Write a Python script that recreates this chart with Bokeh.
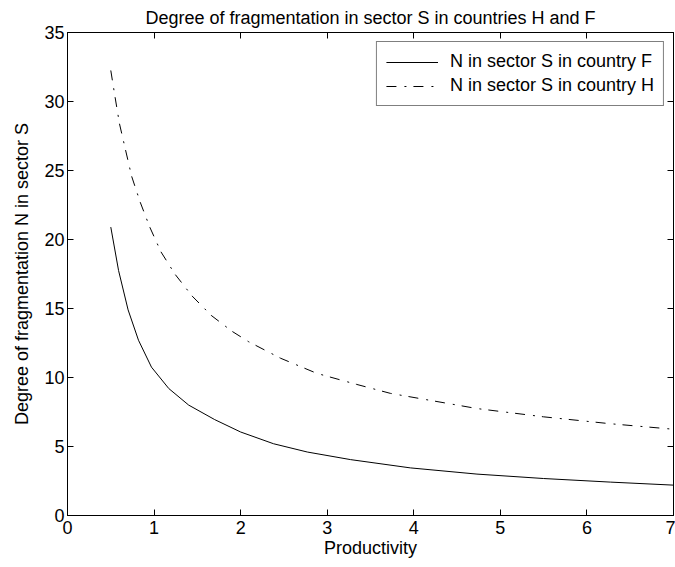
from bokeh.plotting import figure
from bokeh.models import LinearAxis, FixedTicker, Legend, LegendItem
from bokeh.embed import file_html
from bokeh.resources import INLINE

# Productivity values and the fragmentation N they give, per country
prod_F = [0.50, 0.59, 0.70, 0.82, 0.97, 1.17, 1.40, 1.70, 2.00, 2.38, 2.77,
          3.27, 3.96, 4.73, 5.50, 6.27, 7.00]
frag_F = [20.9, 17.75, 14.9, 12.7, 10.75, 9.2, 8.0, 6.95, 6.05, 5.2, 4.6,
          4.05, 3.45, 3.0, 2.68, 2.42, 2.2]

prod_H = [0.50, 0.55, 0.60, 0.67, 0.74, 0.84, 0.95, 1.08, 1.24, 1.44, 1.66,
          1.90, 2.09, 2.46, 2.88, 3.34, 3.73, 4.73, 5.50, 6.27, 7.00]
frag_H = [32.25, 30.3, 28.4, 26.5, 24.6, 22.7, 20.9, 19.1, 17.5, 15.9, 14.5,
          13.35, 12.6, 11.4, 10.3, 9.5, 8.85, 7.75, 7.15, 6.65, 6.25]

x_ticks = [0, 1, 2, 3, 4, 5, 6, 7]
y_ticks = [0, 5, 10, 15, 20, 25, 30, 35]

FONT = "Liberation Sans"
SIZE = "18px"

p = figure(width=675, height=567, x_range=(0, 7), y_range=(0, 35),
           output_backend="svg", toolbar_location=None,
           title="Degree of fragmentation in sector S in countries H and F",
           min_border_left=67, min_border_right=2,
           min_border_top=32, min_border_bottom=52)

p.background_fill_color = "white"
p.border_fill_color = "white"
p.outline_line_color = "black"
p.outline_line_width = 1
p.grid.visible = False

p.title.text_font = FONT
p.title.text_font_size = SIZE
p.title.text_font_style = "normal"
p.title.align = "center"
p.title.text_color = "black"
p.title.standoff = 10

for ax, ticks in ((p.xaxis[0], x_ticks), (p.yaxis[0], y_ticks)):
    ax.ticker = FixedTicker(ticks=ticks)
    ax.major_tick_in = 6
    ax.major_tick_out = 0
    ax.minor_tick_line_color = None
    ax.axis_line_color = "black"
    ax.major_tick_line_color = "black"
    ax.major_label_text_font = FONT
    ax.major_label_text_font_size = SIZE
    ax.major_label_text_color = "black"
    ax.axis_label_text_font = FONT
    ax.axis_label_text_font_size = SIZE
    ax.axis_label_text_font_style = "normal"
    ax.axis_label_text_color = "black"
    ax.major_label_standoff = 3

p.xaxis.major_label_standoff = 5
p.xaxis.axis_label = "Productivity"
p.yaxis.axis_label = "Degree of fragmentation N in sector S"
p.xaxis.axis_label_standoff = 1
p.yaxis.axis_label_standoff = 9

# Tick marks on the top and right edges of the box, without labels
top = LinearAxis(ticker=FixedTicker(ticks=x_ticks),
                 major_label_overrides={t: "" for t in x_ticks},
                 major_label_text_font_size="1px",
                 major_tick_in=6, major_tick_out=0, minor_tick_line_color=None,
                 major_label_standoff=0, axis_line_color="black")
right = LinearAxis(ticker=FixedTicker(ticks=y_ticks),
                   major_label_overrides={t: "" for t in y_ticks},
                   major_label_text_font_size="1px",
                   major_tick_in=6, major_tick_out=0, minor_tick_line_color=None,
                   major_label_standoff=0, axis_line_color="black")
p.add_layout(top, "above")
p.add_layout(right, "right")

rF = p.line(prod_F, frag_F, line_color="black", line_width=1)
rH = p.line(prod_H, frag_H, line_color="black", line_width=1, line_dash="10 8 2 7")

legend = Legend(items=[LegendItem(label="N in sector S in country F", renderers=[rF]),
                       LegendItem(label="N in sector S in country H", renderers=[rH])],
                location="top_right")
legend.label_text_font = FONT
legend.label_text_font_size = SIZE
legend.label_text_color = "black"
legend.glyph_width = 52
legend.glyph_height = 18
legend.label_height = 18
legend.label_standoff = 12
legend.spacing = 3
legend.padding = 9
legend.margin = 9
legend.border_line_color = "black"
legend.border_line_width = 1
legend.background_fill_color = "white"
legend.background_fill_alpha = 1
p.add_layout(legend)

open("out.html", "w").write(file_html(p, INLINE))
